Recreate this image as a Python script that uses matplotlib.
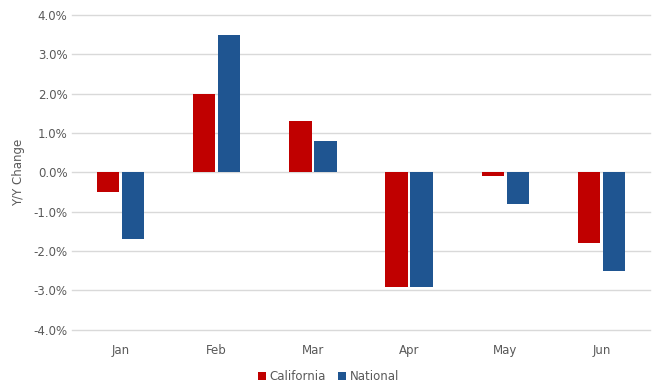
import matplotlib.pyplot as plt
import numpy as np

months = ["Jan", "Feb", "Mar", "Apr", "May", "Jun"]
california = [-0.5, 2.0, 1.3, -2.9, -0.1, -1.8]
national = [-1.7, 3.5, 0.8, -2.9, -0.8, -2.5]
yticks = [-4, -3, -2, -1, 0, 1, 2, 3, 4]

fig = plt.figure(figsize=(6.57, 3.84), dpi=100)
ax = fig.add_axes([0.110, 0.141, 0.879, 0.820])

x = np.arange(len(months))
w = 0.235
ax.bar(x - 0.13, california, w, color="#C00000", label="California", zorder=3)
ax.bar(x + 0.13, national, w, color="#1F5591", label="National", zorder=3)

ax.set_xlim(-0.5, len(months) - 0.5)
ax.set_ylim(-4, 4)
ax.set_yticks(yticks)
ax.set_yticklabels([f"{v:.1f}%" for v in yticks])
ax.set_xticks(x)
ax.set_xticklabels(months)
# gridlines drawn by hand so the ones at the edges are not clipped
for v in yticks:
    ax.axhline(v, color="#D9D9D9", linewidth=1, zorder=0, clip_on=False)
for s in ax.spines.values():
    s.set_visible(False)
ax.tick_params(length=0, labelsize=8.5, colors="#595959")
ax.tick_params(axis="x", pad=10)
ax.set_ylabel("Y/Y Change", fontsize=8.5, color="#595959", labelpad=6)

fig.legend(*ax.get_legend_handles_labels(), loc="lower center",
           bbox_to_anchor=(0.5, -0.025), ncol=2, frameon=False,
           fontsize=8.5, handlelength=0.7, handleheight=0.7, handletextpad=0.3,
           columnspacing=1.0, labelcolor="#595959")

fig.savefig("out.png", dpi=100)
